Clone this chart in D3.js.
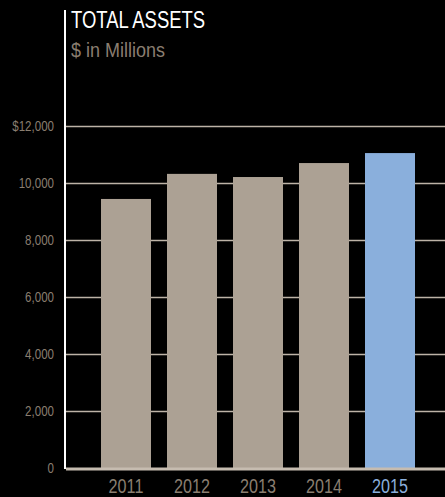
<!DOCTYPE html>
<html>
<head>
<meta charset="utf-8">
<script src="https://cdn.jsdelivr.net/npm/d3@7"></script>
<style>
  body { margin: 0; background: #000; }
  svg { display: block; font-family: "Liberation Sans", Arial, sans-serif; }
</style>
</head>
<body>
<svg class="chart"></svg>
<script>
const years = ["2011", "2012", "2013", "2014", "2015"]
const assets = [9440, 10320, 10210, 10700, 11050]
const yTicks = [0, 2000, 4000, 6000, 8000, 10000, 12000]
const highlightYear = "2015"

const width = 445, height = 497
const colors = {bar: "#aca194", highlight: "#8aafdc", grid: "#bdb3a7", label: "#8a7e70"}
// the original uses a condensed face, so squeeze text horizontally
const squeeze = 0.77

const svg = d3.select(".chart")
    .attr("width", width)
    .attr("height", height)

svg.append("rect")
    .attr("width", width)
    .attr("height", height)
    .attr("fill", "#000")

const xScale = d3.scaleBand()
    .domain(years)
    .range([68, 448])
    .paddingInner(16 / 66)
    .paddingOuter(0.5)

const yScale = d3.scaleLinear()
    .domain([0, 12000])
    .range([468, 126])

function place(x, y, k) {
    return `translate(${x},${y}) scale(${k || squeeze},1)`
}

// gridlines
svg.append("g")
    .selectAll("line")
    .data(yTicks.filter(d => d > 0))
    .join("line")
    .attr("x1", 66)
    .attr("x2", width)
    .attr("y1", d => yScale(d) + 0.5)
    .attr("y2", d => yScale(d) + 0.5)
    .attr("stroke", colors.grid)
    .attr("stroke-width", 1.5)

// bars
svg.append("g")
    .selectAll("rect")
    .data(years)
    .join("rect")
    .attr("x", d => xScale(d))
    .attr("width", xScale.bandwidth())
    .attr("y", (d, i) => yScale(assets[i]))
    .attr("height", (d, i) => yScale(0) - yScale(assets[i]))
    .attr("fill", d => d === highlightYear ? colors.highlight : colors.bar)

// baseline
svg.append("line")
    .attr("x1", 66)
    .attr("x2", width)
    .attr("y1", yScale(0) + 1)
    .attr("y2", yScale(0) + 1)
    .attr("stroke", "#c6bcb0")
    .attr("stroke-width", 3)

// vertical axis line
svg.append("line")
    .attr("x1", 65)
    .attr("x2", 65)
    .attr("y1", 10)
    .attr("y2", 469)
    .attr("stroke", "#fff")
    .attr("stroke-width", 2)

// y tick labels
svg.append("g")
    .selectAll("text")
    .data(yTicks)
    .join("text")
    .attr("transform", d => place(54, yScale(d) + 5))
    .attr("text-anchor", "end")
    .attr("fill", colors.label)
    .style("font-size", "15px")
    .text(d => (d === 12000 ? "$" : "") + d3.format(",")(d))

// x labels
svg.append("g")
    .selectAll("text")
    .data(years)
    .join("text")
    .attr("transform", d => place(xScale(d) + xScale.bandwidth() / 2, 493))
    .attr("text-anchor", "middle")
    .attr("fill", d => d === highlightYear ? colors.highlight : colors.label)
    .style("font-size", "21px")
    .text(d => d)

svg.append("text")
    .attr("transform", place(71, 28))
    .attr("fill", "#fff")
    .style("font-size", "24px")
    .text("TOTAL ASSETS")

svg.append("text")
    .attr("transform", place(71, 57, 0.9))
    .attr("fill", colors.label)
    .style("font-size", "20px")
    .text("$ in Millions")
</script>
</body>
</html>
